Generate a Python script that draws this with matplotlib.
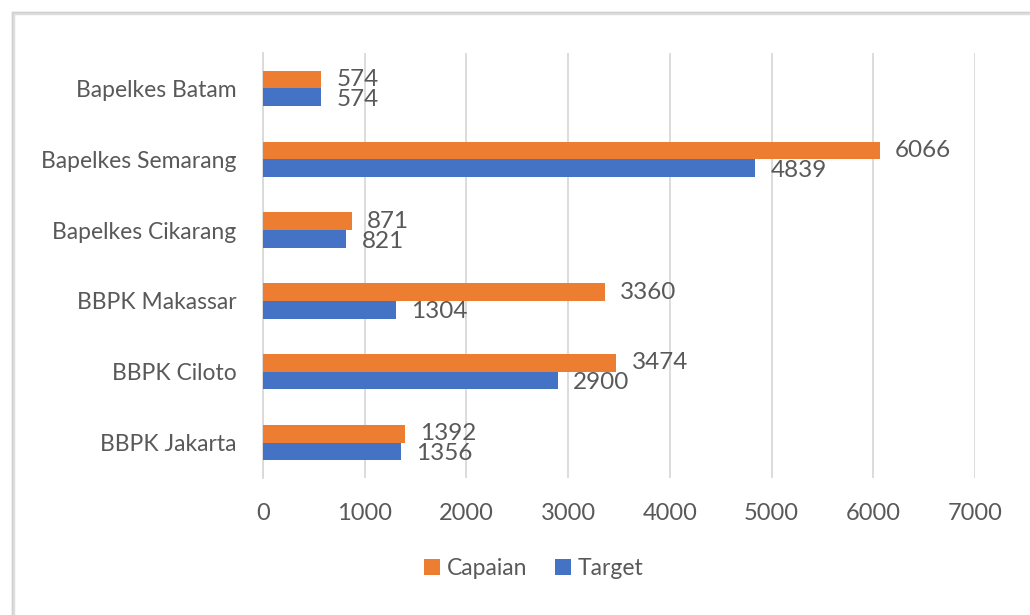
import matplotlib.pyplot as plt
import matplotlib.patches as mpatches
import numpy as np

plt.rcParams['font.family'] = ['Lato', 'DejaVu Sans']

categories = ['BBPK Jakarta', 'BBPK Ciloto', 'BBPK Makassar',
              'Bapelkes Cikarang', 'Bapelkes Semarang', 'Bapelkes Batam']
capaian = [1392, 3474, 3360, 871, 6066, 574]
target = [1356, 2900, 1304, 821, 4839, 574]
xticks = [0, 1000, 2000, 3000, 4000, 5000, 6000, 7000]

orange = '#ED7D31'
blue = '#4472C4'
grey = '#595959'

fig = plt.figure(figsize=(10.3, 6.15), dpi=100)
ax = fig.add_axes([0.2553, 0.2228, 0.6913, 0.691])

y = np.arange(len(categories))
h = 0.25
ax.barh(y + h / 2, capaian, height=h, color=orange, label='Capaian', zorder=3)
ax.barh(y - h / 2, target, height=h, color=blue, label='Target', zorder=3)

for yi, c, t in zip(y, capaian, target):
    ax.text(c + 150, yi + h / 2, str(c), va='center', ha='left',
            fontsize=17.5, color=grey)
    ax.text(t + 150, yi - h / 2 - 0.03, str(t), va='center', ha='left',
            fontsize=17.5, color=grey)

ax.set_xlim(0, 7000)
ax.set_ylim(-0.5, 5.5)
ax.set_xticks(xticks)
ax.set_xticklabels([str(v) for v in xticks])
ax.set_yticks(y)
ax.set_yticklabels(categories)
ax.tick_params(axis='x', length=0, labelsize=17, colors=grey, pad=18)
ax.tick_params(axis='y', length=0, labelsize=16.5, colors=grey, pad=19)
ax.grid(axis='x', color='#D9D9D9', linewidth=1.3, zorder=0)
for s in ['top', 'right', 'bottom']:
    ax.spines[s].set_visible(False)
ax.spines['left'].set_color('#D9D9D9')
ax.spines['left'].set_linewidth(1.3)

leg = fig.legend(loc='center', bbox_to_anchor=(0.518, 0.076), ncol=2,
                 frameon=False, fontsize=16.5, handlelength=0.7,
                 handleheight=0.7, handletextpad=0.3, columnspacing=1.2)
for t in leg.get_texts():
    t.set_color(grey)

# chart frame with a soft shadow
fig.add_artist(mpatches.Rectangle((13 / 1030, -0.1), 1.2, 1 - 13 / 615 + 0.1,
                                  transform=fig.transFigure, facecolor='none',
                                  edgecolor='#BFBFBF', linewidth=2.5, alpha=0.5))
fig.add_artist(mpatches.Rectangle((12 / 1030, -0.1), 1.2, 1 - 12 / 615 + 0.1,
                                  transform=fig.transFigure, facecolor='none',
                                  edgecolor='#D0D0D0', linewidth=1))

fig.savefig('out.png', dpi=100)
